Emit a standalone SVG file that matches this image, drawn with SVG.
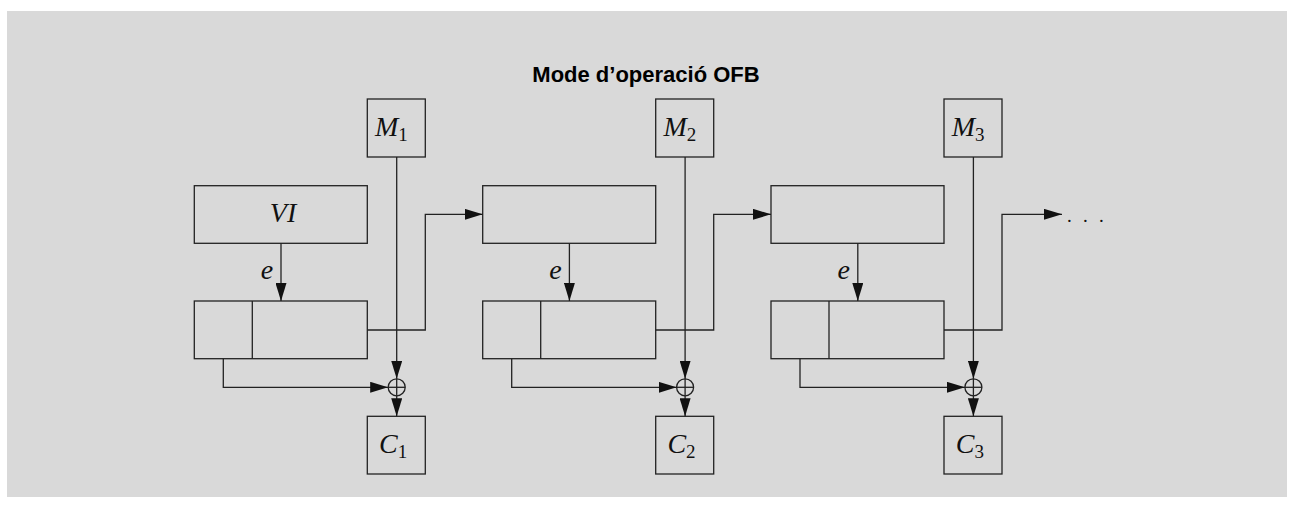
<svg xmlns="http://www.w3.org/2000/svg" width="1293" height="508" viewBox="0 0 1293 508">
<style>
.bx{fill:none;stroke:#222;stroke-width:1.3}
.ln{fill:none;stroke:#222;stroke-width:1.3}
.ar{marker-end:url(#ah)}
.mt{font-family:"Liberation Serif",serif;font-style:italic;font-size:28px;fill:#111}
.sb{font-family:"Liberation Serif",serif;font-size:19px;fill:#111}
.ttl{font-family:"Liberation Sans",Arial,sans-serif;font-weight:bold;font-size:22px;fill:#000}
</style>
<defs>
<marker id="ah" markerUnits="userSpaceOnUse" markerWidth="18" markerHeight="11" refX="18" refY="5.5" orient="auto">
<path d="M0,0 L18,5.5 L0,11 z" fill="#111"/>
</marker>
</defs>
<rect x="7" y="11" width="1280" height="486" fill="#d9d9d9"/>
<text class="ttl" x="646" y="82" text-anchor="middle">Mode d’operació OFB</text>

<g id="M1"><rect class="bx" x="367.3" y="99" width="58" height="58"/><text class="mt" x="375" y="136">M<tspan class="sb" dy="5" font-style="normal">1</tspan></text></g>
<g id="VI"><rect class="bx" x="194.3" y="185.7" width="173" height="57.6"/><text class="mt" x="283" y="222" text-anchor="middle">VI</text></g>
<g id="reg1"><rect class="bx" x="194.3" y="301" width="173" height="57.7"/><line class="ln" x1="252.3" y1="301" x2="252.3" y2="358.7"/></g>
<g id="xor1"><circle class="bx" cx="396.7" cy="387.3" r="8.5"/><line class="ln" x1="388.2" y1="387.3" x2="405.2" y2="387.3"/><line class="ln" x1="396.7" y1="378.8" x2="396.7" y2="395.8"/></g>
<g id="C1"><rect class="bx" x="367.3" y="416.3" width="58" height="57.7"/><text class="mt" x="379" y="453">C<tspan class="sb" dy="5" font-style="normal">1</tspan></text></g>

<g id="M2"><rect class="bx" x="655.7" y="99" width="58" height="58"/><text class="mt" x="663.4" y="136">M<tspan class="sb" dy="5" font-style="normal">2</tspan></text></g>
<g id="R2"><rect class="bx" x="482.7" y="185.7" width="173" height="57.6"/></g>
<g id="reg2"><rect class="bx" x="482.7" y="301" width="173" height="57.7"/><line class="ln" x1="540.7" y1="301" x2="540.7" y2="358.7"/></g>
<g id="xor2"><circle class="bx" cx="685.1" cy="387.3" r="8.5"/><line class="ln" x1="676.6" y1="387.3" x2="693.6" y2="387.3"/><line class="ln" x1="685.1" y1="378.8" x2="685.1" y2="395.8"/></g>
<g id="C2"><rect class="bx" x="655.7" y="416.3" width="58" height="57.7"/><text class="mt" x="667.4" y="453">C<tspan class="sb" dy="5" font-style="normal">2</tspan></text></g>

<g id="M3"><rect class="bx" x="944" y="99" width="58" height="58"/><text class="mt" x="951.7" y="136">M<tspan class="sb" dy="5" font-style="normal">3</tspan></text></g>
<g id="R3"><rect class="bx" x="771" y="185.7" width="173" height="57.6"/></g>
<g id="reg3"><rect class="bx" x="771" y="301" width="173" height="57.7"/><line class="ln" x1="829" y1="301" x2="829" y2="358.7"/></g>
<g id="xor3"><circle class="bx" cx="973.4" cy="387.3" r="8.5"/><line class="ln" x1="964.9" y1="387.3" x2="981.9" y2="387.3"/><line class="ln" x1="973.4" y1="378.8" x2="973.4" y2="395.8"/></g>
<g id="C3"><rect class="bx" x="944" y="416.3" width="58" height="57.7"/><text class="mt" x="955.7" y="453">C<tspan class="sb" dy="5" font-style="normal">3</tspan></text></g>

<g id="dots"><text class="sb" font-size="26" x="1067 1083 1099" y="222">...</text></g>

<g id="connectors">
<path class="ln ar" d="M281,243.3 V301"/>
<path class="ln ar" d="M396.7,157 V378.8"/>
<path class="ln ar" d="M396.7,395.8 V416.3"/>
<path class="ln ar" d="M223.3,358.7 V387.3 H388.2"/>
<path class="ln ar" d="M367.3,330 H425.3 V214.3 H482.7"/>
<text class="mt" x="267" y="279" text-anchor="middle" font-size="27">e</text>

<path class="ln ar" d="M569.4,243.3 V301"/>
<path class="ln ar" d="M685.1,157 V378.8"/>
<path class="ln ar" d="M685.1,395.8 V416.3"/>
<path class="ln ar" d="M511.7,358.7 V387.3 H676.6"/>
<path class="ln ar" d="M655.7,330 H713.7 V214.3 H771"/>
<text class="mt" x="555.4" y="279" text-anchor="middle" font-size="27">e</text>

<path class="ln ar" d="M857.8,243.3 V301"/>
<path class="ln ar" d="M973.4,157 V378.8"/>
<path class="ln ar" d="M973.4,395.8 V416.3"/>
<path class="ln ar" d="M800,358.7 V387.3 H964.9"/>
<path class="ln ar" d="M944,330 H1002 V214.3 H1062"/>
<text class="mt" x="843.8" y="279" text-anchor="middle" font-size="27">e</text>
</g>
</svg>
